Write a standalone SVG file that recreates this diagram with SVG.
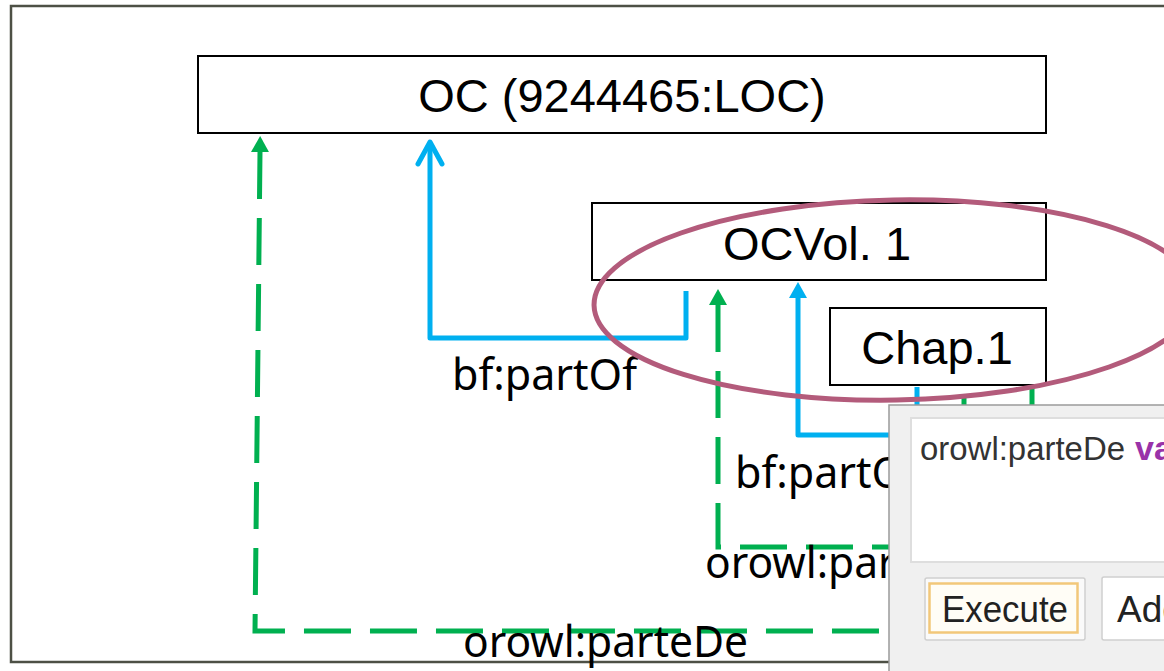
<svg xmlns="http://www.w3.org/2000/svg" width="1164" height="671" viewBox="0 0 1164 671">
<style>
.frame{fill:#fff;stroke:#4d5045;stroke-width:2.5}
.box{fill:#fff;stroke:#000;stroke-width:2}
.nt{font-family:"Liberation Sans",Arial,sans-serif;font-size:47px;fill:#000;text-anchor:middle}
.lbl{font-family:"Noto Sans","Open Sans",sans-serif;font-size:43px;fill:#000}
.blue{fill:none;stroke:#00b0f0;stroke-width:5;stroke-linejoin:round}
.green{fill:none;stroke:#00b050;stroke-width:5;stroke-dasharray:47 19}
.ring{fill:none;stroke:#b35b7b;stroke-width:5}
.ui{font-family:"Liberation Sans",Arial,sans-serif}
</style>
<defs>
<marker id="triB" markerUnits="userSpaceOnUse" viewBox="0 0 16 18" refX="0" refY="9" markerWidth="16" markerHeight="18" orient="auto-start-reverse"><path d="M0,0 L16,9 L0,18 Z" fill="#00b0f0"/></marker>
<marker id="triG" markerUnits="userSpaceOnUse" viewBox="0 0 16 18" refX="0" refY="9" markerWidth="16" markerHeight="18" orient="auto-start-reverse"><path d="M0,0 L16,9 L0,18 Z" fill="#00b050"/></marker>
<marker id="chevB" markerUnits="userSpaceOnUse" viewBox="-26 -15 30 30" refX="0" refY="0" markerWidth="30" markerHeight="30" orient="auto"><path d="M-22,-12 L0,0 L-22,12" fill="none" stroke="#00b0f0" stroke-width="5" stroke-linecap="round" stroke-linejoin="round"/></marker>
</defs>
<rect class="frame" x="11" y="6" width="1200" height="656"/>
<g id="node-oc"><rect class="box" x="198" y="56" width="848" height="77"/><text class="nt" x="622" y="112">OC (9244465:LOC)</text></g>
<g id="node-ocvol1"><rect class="box" x="592" y="203" width="454" height="77"/><text class="nt" x="817" y="260">OCVol. 1</text></g>
<g id="node-chap1"><rect class="box" x="830" y="308" width="216" height="77"/><text class="nt" x="937" y="364">Chap.1</text></g>
<g id="connectors">
<path class="blue" d="M686,291 V338 H430 V142" marker-end="url(#chevB)"/>
<path class="blue" d="M798,298 V435 H917 V387" marker-start="url(#triB)"/>
<path class="green" d="M718,305 V547 H964 V386" marker-start="url(#triG)"/>
<path class="green" d="M260,152 L255,631 H1032 V386" marker-start="url(#triG)"/>
</g>
<g id="labels">
<text class="lbl" x="452" y="390" textLength="185" lengthAdjust="spacingAndGlyphs">bf:partOf</text>
<text class="lbl" x="735" y="488" textLength="185" lengthAdjust="spacingAndGlyphs">bf:partOf</text>
<text class="lbl" x="705" y="578" textLength="285" lengthAdjust="spacingAndGlyphs">orowl:parteDe</text>
<text class="lbl" x="463" y="657" textLength="285" lengthAdjust="spacingAndGlyphs">orowl:parteDe</text>
</g>
<ellipse id="highlight" class="ring" cx="895" cy="300" rx="301" ry="100" transform="rotate(-1 895 300)"/>
<g id="query-panel">
<rect x="889" y="405" width="290" height="280" fill="#f0f0f0" stroke="#9a9a9a" stroke-width="1.5"/>
<rect x="911" y="418" width="270" height="144" fill="#fff" stroke="#dedede" stroke-width="2"/>
<text class="ui" x="920" y="460" font-size="34" fill="#333" textLength="205" lengthAdjust="spacingAndGlyphs">orowl:parteDe</text>
<text class="ui" x="1135" y="460" font-size="34" fill="#9932a8" font-weight="bold">va</text>
<rect x="925" y="578" width="160" height="62" rx="2" fill="#fafafa" stroke="#cfcfcf" stroke-width="1.5"/>
<rect x="929.5" y="583.5" width="148" height="49" fill="#fffdf6" stroke="#f2c77a" stroke-width="2.5"/>
<text class="ui" x="942" y="622" font-size="37" fill="#222" textLength="126" lengthAdjust="spacingAndGlyphs">Execute</text>
<rect x="1102" y="577" width="80" height="63" rx="2" fill="#fff" stroke="#cfcfcf" stroke-width="1.5"/>
<text class="ui" x="1117" y="622" font-size="37" fill="#222">Add</text>
</g>
</svg>
